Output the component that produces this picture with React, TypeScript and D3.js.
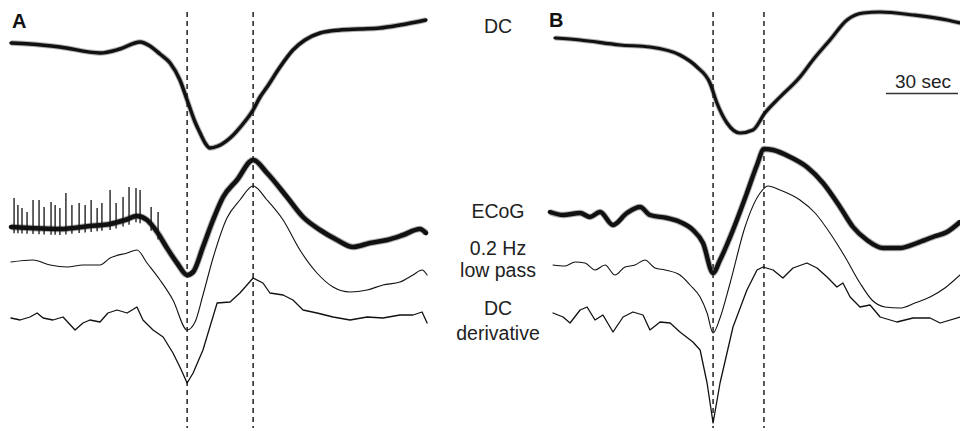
import React from 'react';
import * as d3 from 'd3';

// time in seconds, amplitude in a.u. (positive = up) relative to each trace's start
const dcA = [[0.4,0],[8.3,-1],[20.8,-4],[37.5,-10],[45.8,-6],[54.2,1],[58.3,-3],[62.5,-11],[66.7,-20],[70.8,-37],[73.8,-57],[77.1,-79],[79.2,-90],[81.3,-100],[83.3,-105],[86.7,-103],[91.7,-95],[96.7,-82],[101.3,-67],[104.2,-54],[107.1,-44],[112.5,-24],[117.9,-7],[122.9,3],[129.2,10],[137.5,13],[145.8,14],[154.2,15],[162.5,18],[173.3,23]];
const ecogA = [[0.4,0],[8.3,-1],[20.8,-2],[33.3,1],[41.7,3],[47.9,7],[52.9,11],[57.1,7],[61.3,-5],[65.4,-21],[69.6,-36],[73.8,-48],[76.3,-45],[80.4,-20],[84.6,7],[88.8,30],[94.6,47],[101.3,67],[107.1,54],[115.4,30],[122.1,10],[129.2,-3],[136.3,-13],[142.9,-20],[150,-16],[157.1,-13],[163.8,-8],[170.8,-2],[173.3,-6]];
const spikesA = [[1.7,29],[3.3,22],[5,19],[7.1,15],[9.6,27],[12.1,27],[14.2,20],[17.1,25],[18.8,22],[20.8,19],[23.3,34],[25.8,22],[28.8,24],[31.3,22],[33.8,27],[36.3,19],[38.3,24],[41.7,37],[44.2,24],[47.1,30],[49.6,40],[52.5,39],[54.2,37],[58.8,20],[61.7,15]];
const lowA = [[0.4,0],[9.6,2],[16.7,-3],[23.8,-5],[30.4,-3],[37.5,-3],[41.7,4],[48.8,9],[52.9,12],[57.1,-1],[62.5,-18],[67.9,-38],[73.8,-68],[77.1,-60],[80.4,-33],[84.6,4],[90.4,44],[95.8,62],[101.3,76],[107.1,62],[113.8,42],[120.8,12],[127.9,-11],[134.6,-25],[141.7,-30],[148.8,-28],[155.4,-23],[162.5,-20],[167.9,-13],[171.7,-8],[173.8,-13]];
const derA = [[0.4,0],[4.2,-2],[8.3,1],[11.3,5],[13.8,0],[17.9,-2],[22.1,1],[27.1,-12],[30.4,-5],[33.3,-2],[37.5,-4],[40.8,5],[44.6,8],[48.8,5],[52.9,11],[55.4,-2],[59.6,-12],[63.8,-19],[67.9,-35],[70.8,-49],[73.8,-65],[76.3,-55],[80.4,-32],[86.3,15],[91.7,16],[95.8,25],[101.3,40],[105.4,35],[108.3,25],[113.8,23],[117.9,18],[122.1,8],[127.9,5],[134.6,1],[141.7,-2],[148.8,1],[155.4,0],[162.5,3],[167.9,3],[171.7,6],[173.8,-5]];

const dcB = [[0.8,0],[11.3,-2],[27.9,-7],[40.4,-9],[52.9,-17],[60,-29],[65.4,-45],[68.3,-65],[72.5,-85],[77.9,-95],[83.3,-92],[88.3,-75],[94.6,-59],[102.9,-39],[108.3,-22],[115.4,-2],[122.5,18],[129.2,25],[136.3,26],[150,23],[164.2,18],[169.6,15]];
const ecogB = [[-1.3,0],[4.2,-3],[11.3,-1],[15.4,-5],[19.6,0],[25,-13],[30.8,-1],[36.3,5],[40.4,-3],[47.5,-6],[52.9,-10],[58.3,-18],[62.5,-31],[66.7,-61],[69.6,-48],[75,-18],[80.8,19],[85,47],[87.9,63],[91.7,62],[98.8,55],[105.8,45],[112.5,29],[119.6,5],[125,-15],[130.8,-28],[137.5,-36],[144.6,-36],[151.7,-31],[158.3,-25],[164.2,-20],[169.6,-10]];
const lowB = [[0,0],[5,-1],[9.2,3],[13.3,2],[17.5,-5],[21.7,0],[25.8,-10],[30,-2],[34.2,0],[38.3,5],[42.5,-3],[46.7,-5],[52.9,-10],[57.1,-20],[61.3,-32],[64.2,-48],[66.7,-68],[69.6,-53],[73.8,-18],[80,38],[86.3,72],[89.6,79],[94.6,75],[102.9,65],[109.2,52],[115.4,32],[121.7,8],[127.9,-18],[132.9,-35],[138.3,-42],[144.6,-43],[150.8,-38],[157.1,-32],[163.3,-23],[169.6,-10]];
const derB = [[0,0],[4.2,-4],[7.1,-10],[11.3,3],[14.2,6],[17.5,-7],[20.8,-2],[25,-19],[29.2,-4],[33.3,1],[37.5,-2],[40.4,-17],[44.6,-9],[48.8,-10],[52.9,-19],[58.3,-29],[61.3,-37],[64.2,-70],[66.7,-110],[69.6,-70],[75,-14],[80.8,23],[85,43],[87.5,46],[91.7,43],[95.8,35],[100,45],[105.8,50],[110,45],[114.2,36],[118.3,26],[120.8,30],[123.8,16],[127.9,6],[132.1,8],[136.3,-4],[143.3,-9],[150,-5],[157.1,-5],[161.3,-10],[169.6,-4]];

const marksA = [73.8, 101.3];
const marksB = [66.7, 87.9];
const rowLabels = [['DC', 33], ['ECoG', 218], ['0.2 Hz', 255], ['low pass', 277], ['DC', 315], ['derivative', 340]];
const scaleBarSec = 30;

const W = 960, H = 431;
const PX_PER_SEC = 2.4;
const xA = d3.scaleLinear().domain([0, 175]).range([10, 10 + 175 * PX_PER_SEC]);
const xB = d3.scaleLinear().domain([0, 175]).range([553, 553 + 175 * PX_PER_SEC]);

const yFor = (base: number) => d3.scaleLinear().domain([0, 1]).range([base, base - 1]);

type Trace = { data: number[][]; x: any; base: number; width: number; smooth: boolean };
const traces: Trace[] = [
  { data: dcA, x: xA, base: 43, width: 3.4, smooth: true },
  { data: ecogA, x: xA, base: 227, width: 4.6, smooth: true },
  { data: lowA, x: xA, base: 262, width: 1.1, smooth: true },
  { data: derA, x: xA, base: 318, width: 1.3, smooth: false },
  { data: dcB, x: xB, base: 38, width: 3.2, smooth: true },
  { data: ecogB, x: xB, base: 212, width: 4.4, smooth: true },
  { data: lowB, x: xB, base: 265, width: 1.1, smooth: true },
  { data: derB, x: xB, base: 313, width: 1.3, smooth: false },
];

function pathOf(t: Trace) {
  const y = yFor(t.base);
  return d3.line<number[]>()
    .x(d => t.x(d[0]))
    .y(d => y(d[1]))
    .curve(t.smooth ? d3.curveMonotoneX : d3.curveLinear)(t.data) || '';
}

export default function App() {
  const yE = yFor(227);
  const baseAt = (tt: number) => {
    const i = d3.bisector((d: number[]) => d[0]).left(ecogA, tt);
    const a = ecogA[Math.max(0, i - 1)], b = ecogA[Math.min(ecogA.length - 1, i)];
    if (a === b) return a[1];
    return a[1] + (b[1] - a[1]) * (tt - a[0]) / (b[0] - a[0]);
  };
  const font = 'Arial, "Liberation Sans", Helvetica, sans-serif';
  return (
    <svg width={W} height={H} style={{ position: 'absolute', left: 0, top: 0, background: '#fff' }} fontFamily={font}>
      {[...marksA.map(m => xA(m)), ...marksB.map(m => xB(m))].map((x, i) => (
        <line key={i} x1={x} x2={x} y1={12} y2={428} stroke="#111" strokeWidth={1.4} strokeDasharray="5,4" />
      ))}
      {traces.map((t, i) => (
        <g key={i}>
          {t.width > 2 && <path d={pathOf(t)} fill="none" stroke="#555" strokeOpacity={0.45} strokeWidth={t.width + 2} strokeLinejoin="round" />}
          <path d={pathOf(t)} fill="none" stroke="#111" strokeWidth={t.width} strokeLinejoin="round" strokeLinecap="round" />
        </g>
      ))}
      {spikesA.map((s, i) => (
        <line key={i} x1={xA(s[0])} x2={xA(s[0])} y1={yE(baseAt(s[0]) - 6)} y2={yE(s[1])} stroke="#111" strokeWidth={1.3} />
      ))}
      <text x={12} y={28} fontSize={20} fontWeight="bold" fill="#111">A</text>
      <text x={549} y={27} fontSize={20} fontWeight="bold" fill="#111">B</text>
      {rowLabels.map(([s, y], i) => (
        <text key={i} x={498} y={y as number} fontSize={19.5} textAnchor="middle" fill="#222">{s}</text>
      ))}
      <text x={923} y={88} fontSize={19} textAnchor="middle" fill="#222">30 sec</text>
      <line x1={958 - xB(scaleBarSec) + xB(0)} x2={958} y1={93.5} y2={93.5} stroke="#333" strokeWidth={1.6} />
    </svg>
  );
}
